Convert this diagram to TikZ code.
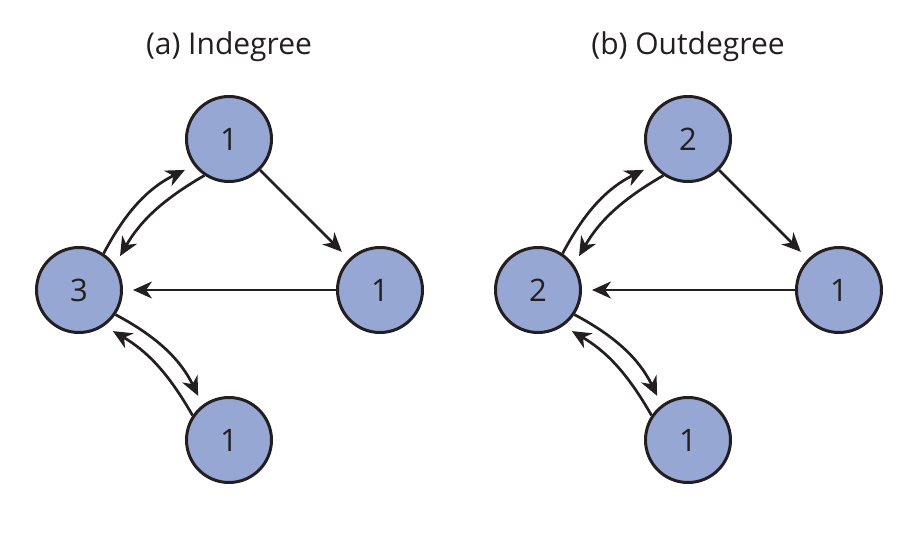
\documentclass[tikz,border=0pt]{standalone}
\usepackage{fontspec}
\setmainfont{Open Sans}
\usetikzlibrary{arrows.meta}
\definecolor{nodefill}{RGB}{151,167,211}
\definecolor{ink}{RGB}{35,31,32}
\tikzset{
  vert/.style={circle, draw=ink, fill=nodefill, line width=3pt, minimum size=85pt, inner sep=0pt, text=ink, font=\fontsize{31}{31}\selectfont},
  ttl/.style={text=ink, font=\fontsize{30}{30}\selectfont},
  edge/.style={draw=ink, line width=2.7pt, -{Stealth[length=19pt, width=17pt, inset=6pt]}, shorten >=10pt},
}
\begin{document}
\begin{tikzpicture}[x=1pt, y=-1pt]
\useasboundingbox (0,0) rectangle (922,550);
\foreach \dx/\lab/\t/\l/\r/\b/\p in {0/(a) Indegree/1/3/1/1/A, 459/(b) Outdegree/2/2/1/1/B}{
  \node[ttl] (title\p) at (229+\dx,47) {\lab};
  \node[vert] (t\p) at (229+\dx,139) {\t};
  \node[vert] (l\p) at (79+\dx,290) {\l};
  \node[vert] (r\p) at (380+\dx,290) {\r};
  \node[vert] (b\p) at (229+\dx,440) {\b};
  \draw[edge] (t\p) -- (r\p);
  \draw[edge] (r\p) -- (l\p);
  \draw[edge] (l\p.56) to[bend left=18] (t\p.217);
  \draw[edge] (t\p.236) to[bend right=15] (l\p.35);
  \draw[edge] (l\p.-34) to[bend left=18] (b\p.127);
  \draw[edge] (b\p.146) to[bend right=15] (l\p.-55);
}
\end{tikzpicture}
\end{document}
